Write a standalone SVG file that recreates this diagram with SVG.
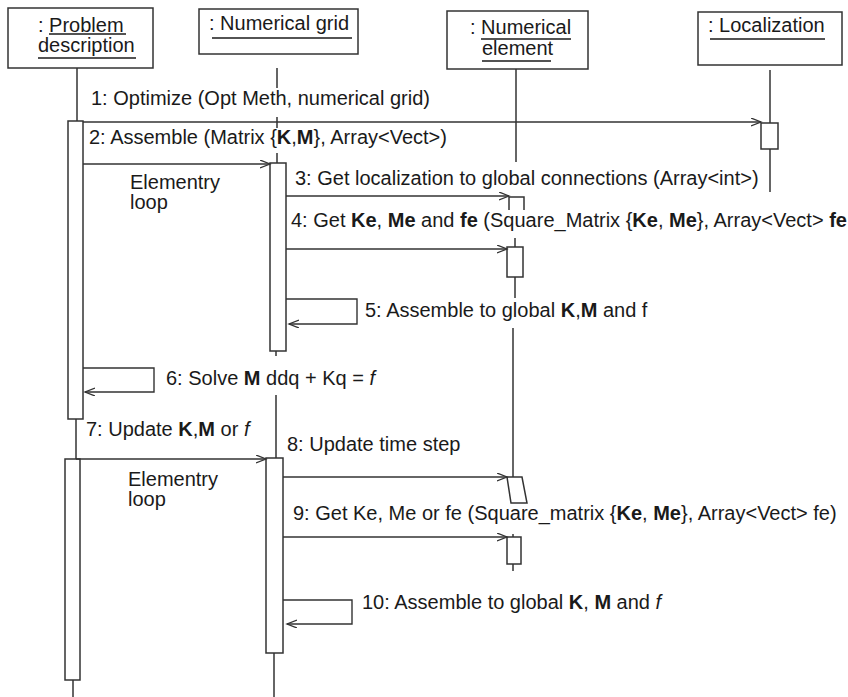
<svg xmlns="http://www.w3.org/2000/svg" width="848" height="697" viewBox="0 0 848 697">
  <defs>
    <!-- open arrowhead for synchronous messages -->
    <marker id="open" markerWidth="12" markerHeight="10" refX="10" refY="4" orient="auto" markerUnits="userSpaceOnUse">
      <path d="M0,0 L10,4 L0,8" fill="none" stroke="#333" stroke-width="1.3"/>
    </marker>
  </defs>
  <style>
    .box{fill:#fff;stroke:#333;stroke-width:1.5}
    .life{stroke:#333;stroke-width:1.5;fill:none}
    .act{fill:#fff;stroke:#333;stroke-width:1.5}
    .msg{stroke:#333;stroke-width:1.4;fill:none;marker-end:url(#open)}
    text{font-family:"Liberation Sans",Arial,sans-serif;font-size:20px;fill:#1a1a1a}
    .ul{stroke:#1a1a1a;stroke-width:1.6}
    .b{font-weight:bold}
    .i{font-style:italic}
  </style>
  <rect width="848" height="697" fill="#fff"/>

  <!-- object: Problem description -->
  <g id="problem-description">
    <rect class="box" x="8" y="8" width="145" height="60"/>
    <text x="38" y="32">: Problem</text>
    <line class="ul" x1="49" y1="34" x2="126" y2="34"/>
    <text x="38" y="52">description</text>
    <line class="ul" x1="38" y1="58" x2="136" y2="58" stroke-width="2"/>
    <line class="life" x1="77" y1="68" x2="77" y2="121"/>
    <rect class="act" x="68" y="121" width="15" height="298"/>
    <line class="life" x1="76" y1="419" x2="76" y2="459"/>
    <rect class="act" x="65" y="459" width="15" height="221"/>
    <line class="life" x1="73" y1="680" x2="73" y2="697"/>
  </g>

  <!-- object: Numerical grid -->
  <g id="numerical-grid">
    <rect class="box" x="199" y="9" width="159" height="45"/>
    <text x="209" y="30">: Numerical grid</text>
    <line class="ul" x1="212" y1="38" x2="352" y2="38"/>
    <path class="life" d="M277,68 V88 M277,117 V128 M277,153 V163"/>
    <rect class="act" x="270" y="163" width="16" height="188"/>
    <path class="life" d="M276,351 V356 M276,395 V458"/>
    <rect class="act" x="266" y="458" width="17" height="195"/>
    <line class="life" x1="274" y1="653" x2="274" y2="697"/>
  </g>

  <!-- object: Numerical element -->
  <g id="numerical-element">
    <rect class="box" x="447" y="11" width="141" height="58"/>
    <text x="470" y="34">: Numerical</text>
    <line class="ul" x1="481" y1="39" x2="571" y2="39"/>
    <text x="482" y="55">element</text>
    <line class="ul" x1="482" y1="61" x2="551" y2="61" stroke-width="2"/>
    <line class="life" x1="516" y1="69" x2="516" y2="162"/>
    <path class="act" d="M509,210 V197 H524 V210"/>
    <line class="life" x1="515" y1="238" x2="515" y2="247"/>
    <rect class="act" x="507" y="247" width="16" height="30"/>
    <line class="life" x1="515" y1="277" x2="515" y2="298"/>
    <line class="life" x1="513" y1="328" x2="513" y2="477"/>
    <polygon class="act" points="507,477 522,477 527,503 511,503"/>
    <line class="life" x1="513" y1="534" x2="513" y2="537"/>
    <rect class="act" x="507" y="537" width="14" height="27"/>
    <line class="life" x1="513" y1="564" x2="513" y2="571"/>
  </g>

  <!-- object: Localization -->
  <g id="localization">
    <rect class="box" x="698" y="12" width="144" height="53"/>
    <text x="708" y="32">: Localization</text>
    <line class="ul" x1="710" y1="39" x2="825" y2="39"/>
    <line class="life" x1="770" y1="70" x2="770" y2="123"/>
    <rect class="act" x="761" y="123" width="17" height="26"/>
    <line class="life" x1="770" y1="149" x2="770" y2="192"/>
  </g>

  <!-- messages -->
  <g id="connectors">
    <line class="msg" x1="83" y1="122" x2="761" y2="122"/>
    <line class="msg" x1="83" y1="164" x2="270" y2="164"/>
    <line class="msg" x1="286" y1="196" x2="509" y2="196"/>
    <line class="msg" x1="286" y1="249" x2="507" y2="249"/>
    <path class="msg" d="M286,299 H357 V324 H289"/>
    <path class="msg" d="M83,368 H154 V392 H85"/>
    <line class="msg" x1="76" y1="459" x2="266" y2="459"/>
    <line class="msg" x1="283" y1="477" x2="507" y2="477"/>
    <line class="msg" x1="283" y1="537" x2="507" y2="537"/>
    <path class="msg" d="M283,600 H352 V624 H287"/>
  </g>

  <!-- message labels -->
  <g id="labels">
    <text x="91" y="105">1: Optimize (Opt Meth, numerical grid)</text>
    <text x="89" y="144">2: Assemble (Matrix {<tspan class="b">K</tspan>,<tspan class="b">M</tspan>}, Array&lt;Vect&gt;)</text>
    <text x="130" y="189">Elementry</text>
    <text x="130" y="209">loop</text>
    <text x="295" y="185">3: Get localization to global connections (Array&lt;int&gt;)</text>
    <text x="291" y="227">4: Get <tspan class="b">Ke</tspan>, <tspan class="b">Me</tspan> and <tspan class="b">fe</tspan> (Square_Matrix {<tspan class="b">Ke</tspan>, <tspan class="b">Me</tspan>}, Array&lt;Vect&gt; <tspan class="b">fe</tspan></text>
    <text x="365" y="317">5: Assemble to global <tspan class="b">K</tspan>,<tspan class="b">M</tspan> and f</text>
    <text x="166" y="385">6: Solve <tspan class="b">M</tspan> ddq + Kq = <tspan class="i">f</tspan></text>
    <text x="86" y="436">7: Update <tspan class="b">K</tspan>,<tspan class="b">M</tspan> or <tspan class="i">f</tspan></text>
    <text x="287" y="451">8: Update time step</text>
    <text x="128" y="486">Elementry</text>
    <text x="128" y="506">loop</text>
    <text x="293" y="520">9: Get Ke, Me or fe (Square_matrix {<tspan class="b">Ke</tspan>, <tspan class="b">Me</tspan>}, Array&lt;Vect&gt; fe)</text>
    <text x="362" y="609">10: Assemble to global <tspan class="b">K</tspan>, <tspan class="b">M</tspan> and <tspan class="i">f</tspan></text>
  </g>
</svg>
